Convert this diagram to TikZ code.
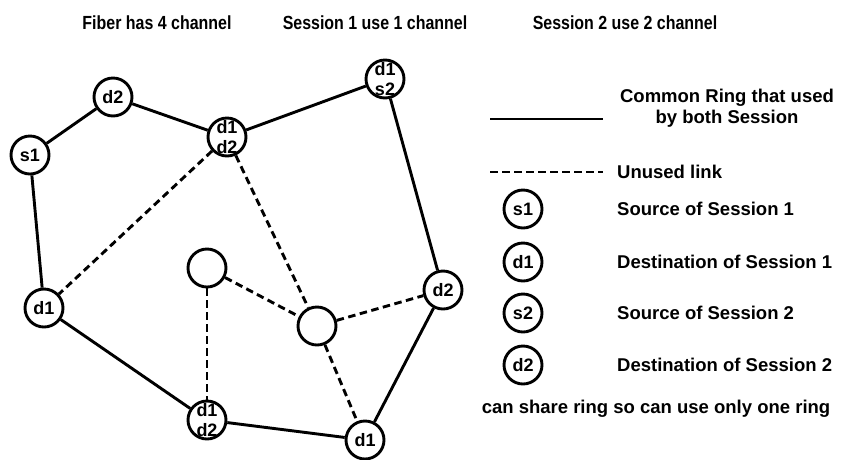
\documentclass[tikz,border=0pt]{standalone}
\usepackage{fontspec}
\setmainfont{Liberation Sans}
\newfontfamily\titlefont[FakeStretch=0.84]{Liberation Sans}
\begin{document}
\begin{tikzpicture}[x=1pt,y=-1pt,
  nd/.style={circle,draw,line width=2.9pt,minimum size=38pt,inner sep=0pt,font=\fontsize{18}{18}\selectfont\bfseries},
  two/.style={align=center,inner sep=0pt,font=\fontsize{18}{19.5}\selectfont\bfseries},
  ring/.style={line width=2.9pt},
  unused/.style={line width=2.9pt,dash pattern=on 7.5pt off 4.5pt},
  lbl/.style={font=\fontsize{18.5}{21}\selectfont\bfseries,anchor=west,inner sep=0pt},
  ttl/.style={font=\titlefont\fontsize{19}{19}\selectfont\bfseries,inner sep=0pt},
]
\useasboundingbox (0,0) rectangle (842,459);
% titles
\node[ttl] (t1) at (157,23) {Fiber has 4 channel};
\node[ttl] (t2) at (375,23) {Session 1 use 1 channel};
\node[ttl] (t3) at (625,23) {Session 2 use 2 channel};
% network nodes
\node[nd] (s1) at (30,155) {s1};
\node[nd] (d2t) at (113,97) {d2};
\node[nd] (hub) at (227,137) {};
\node[two] at (hub) {d1\\d2};
\node[nd] (ds) at (385,79) {};
\node[two] at (ds) {d1\\s2};
\node[nd] (d2r) at (443,290) {d2};
\node[nd] (d1b) at (365,440) {d1};
\node[nd] (ddb) at (207,420) {};
\node[two] at (ddb) {d1\\d2};
\node[nd] (d1l) at (44,308) {d1};
\node[nd] (e1) at (207,268) {};
\node[nd] (e2) at (317,326) {};
% common ring
\draw[ring] (s1) -- (d2t);
\draw[ring] (d2t) -- (hub);
\draw[ring] (hub) -- (ds);
\draw[ring] (ds) -- (d2r);
\draw[ring] (d2r) -- (d1b);
\draw[ring] (d1b) -- (ddb);
\draw[ring] (ddb) -- (d1l);
\draw[ring] (d1l) -- (s1);
% unused links
\draw[unused] (hub) -- (d1l);
\draw[unused] (hub) -- (e2);
\draw[unused] (e1) -- (ddb);
\draw[unused] (e1) -- (e2);
\draw[unused] (e2) -- (d2r);
\draw[unused] (e2) -- (d1b);
% legend
\coordinate (la) at (490,119);
\coordinate (lb) at (603,119);
\draw[ring] (la) -- (lb);
\node[font=\fontsize{18.5}{21}\selectfont\bfseries,align=center,inner sep=0pt] (lt1) at (727,108) {Common Ring that used\\by both Session};
\coordinate (lc) at (490,172);
\coordinate (ld) at (603,172);
\draw[unused] (lc) -- (ld);
\node[lbl] (lt2) at (617,172) {Unused link};
\node[nd] (ls1) at (523,209) {s1};
\node[lbl] (lt3) at (617,209) {Source of Session 1};
\node[nd] (ld1) at (523,262) {d1};
\node[lbl] (lt4) at (617,262) {Destination of Session 1};
\node[nd] (ls2) at (523,313) {s2};
\node[lbl] (lt5) at (617,313) {Source of Session 2};
\node[nd] (ld2) at (523,365) {d2};
\node[lbl] (lt6) at (617,365) {Destination of Session 2};
\node[font=\fontsize{18.5}{21}\selectfont\bfseries,inner sep=0pt] (note) at (656,409) {can share ring so can use only one ring};
\end{tikzpicture}
\end{document}
